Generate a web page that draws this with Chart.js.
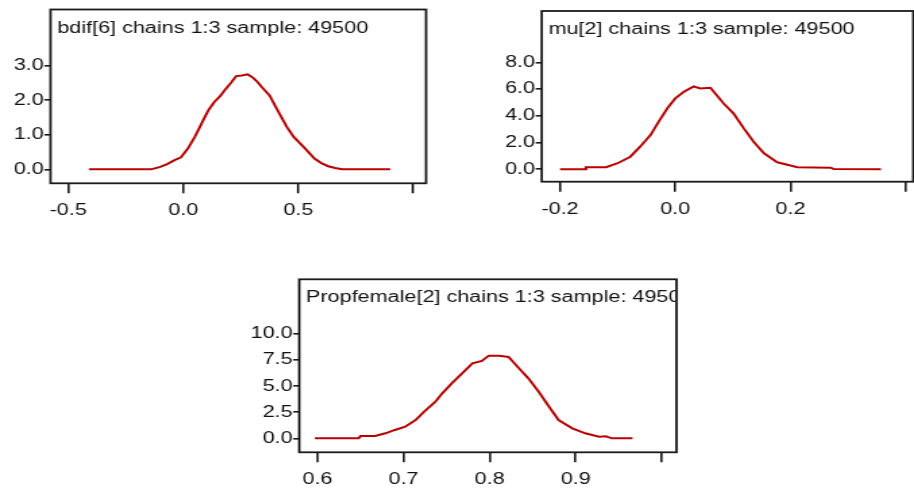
<!DOCTYPE html>
<html>
<head>
<meta charset="utf-8">
<script src="https://cdn.jsdelivr.net/npm/chart.js@4.4.1/dist/chart.umd.min.js"></script>
<style>
  html, body { margin: 0; padding: 0; background: #fff; }
  body { width: 914px; height: 491px; position: relative; overflow: hidden; }
  canvas { position: absolute; }
</style>
</head>
<body>
<script>
// the screenshot is stretched sideways, so each canvas is drawn narrow and widened by css
const S = 1.35;
const FONT = "'Liberation Sans', Arial, sans-serif";

// bdif[6] density
const bdifX = [-0.41, -0.14, -0.10, -0.07, -0.04, -0.01, 0.02, 0.05, 0.07, 0.09, 0.11, 0.135, 0.16, 0.18, 0.21, 0.23, 0.255, 0.28, 0.30, 0.32, 0.34, 0.375, 0.41, 0.45, 0.48, 0.53, 0.57, 0.60, 0.63, 0.66, 0.69, 0.90];
const bdifY = [0, 0, 0.07, 0.15, 0.26, 0.35, 0.60, 0.94, 1.20, 1.47, 1.72, 1.95, 2.12, 2.29, 2.53, 2.70, 2.72, 2.75, 2.67, 2.55, 2.39, 2.14, 1.71, 1.23, 0.94, 0.60, 0.31, 0.18, 0.09, 0.04, 0, 0];
const bdifXTicks = [-0.5, 0, 0.5, 1.0];
const bdifXLabels = ['-0.5', '0.0', '0.5', ''];
const bdifYTicks = [0, 1, 2, 3];
const bdifYLabels = ['0.0', '1.0', '2.0', '3.0'];

// mu[2] density
const muX = [-0.20, -0.157, -0.155, -0.12, -0.10, -0.078, -0.061, -0.043, -0.029, -0.014, 0.0, 0.015, 0.032, 0.043, 0.061, 0.072, 0.084, 0.101, 0.119, 0.136, 0.154, 0.177, 0.212, 0.27, 0.275, 0.357];
const muY = [0, 0, 0.15, 0.15, 0.45, 0.94, 1.69, 2.56, 3.55, 4.55, 5.3, 5.8, 6.2, 6.04, 6.1, 5.54, 4.92, 4.18, 3.06, 2.06, 1.19, 0.52, 0.15, 0.12, 0.02, 0];
const muXTicks = [-0.2, 0, 0.2, 0.4];
const muXLabels = ['-0.2', '0.0', '0.2', ''];
const muYTicks = [0, 2, 4, 6, 8];
const muYLabels = ['0.0', '2.0', '4.0', '6.0', '8.0'];

// Propfemale[2] density
const pfX = [0.597, 0.648, 0.65, 0.667, 0.679, 0.690, 0.702, 0.714, 0.724, 0.737, 0.745, 0.756, 0.768, 0.780, 0.791, 0.799, 0.811, 0.822, 0.834, 0.845, 0.857, 0.869, 0.880, 0.896, 0.911, 0.927, 0.935, 0.942, 0.966];
const pfY = [0, 0, 0.22, 0.22, 0.48, 0.80, 1.11, 1.75, 2.55, 3.51, 4.31, 5.27, 6.23, 7.19, 7.41, 7.92, 7.92, 7.80, 6.71, 5.75, 4.47, 3.03, 1.75, 0.96, 0.48, 0.16, 0.2, 0, 0];
const pfXTicks = [0.6, 0.7, 0.8, 0.9, 1.0];
const pfXLabels = ['0.6', '0.7', '0.8', '0.9', ''];
const pfYTicks = [0, 2.5, 5, 7.5, 10];
const pfYLabels = ['0.0', '2.5', '5.0', '7.5', '10.0'];

// frame and in-box title
const boxPlugin = {
  id: 'box',
  afterDraw(chart, args, opts) {
    const { ctx, chartArea: a } = chart;
    ctx.save();
    ctx.strokeStyle = '#1a1a1a';
    ctx.lineWidth = 1.8;
    ctx.strokeRect(a.left, a.top, a.right - a.left, a.bottom - a.top);
    ctx.beginPath();
    ctx.rect(a.left, a.top, a.right - a.left - 1, a.bottom - a.top);
    ctx.clip();
    ctx.fillStyle = '#111';
    ctx.font = '16px ' + FONT;
    ctx.fillText(opts.text, a.left + 5, a.top + 23);
    ctx.restore();
  }
};

function panel(p) {
  const c = document.createElement('canvas');
  const w = Math.round(p.w / S);
  const k = p.w / w;
  c.width = w;
  c.height = p.h;
  c.style.left = p.x + 'px';
  c.style.top = p.y + 'px';
  c.style.width = p.w + 'px';
  c.style.height = p.h + 'px';
  document.body.appendChild(c);

  const yW = (p.box[0] - p.x) / k;
  const xH = p.y + p.h - p.box[3];

  new Chart(c, {
    type: 'line',
    data: {
      datasets: [{
        data: p.xs.map((x, i) => ({ x: x, y: p.ys[i] })),
        borderColor: '#b80000',
        borderWidth: 2,
        pointRadius: 0,
        tension: 0,
        fill: false
      }]
    },
    options: {
      responsive: false,
      animation: false,
      devicePixelRatio: 1,
      layout: { padding: { left: 0, top: p.box[1] - p.y, right: (p.x + p.w - p.box[2]) / k, bottom: 0 } },
      plugins: {
        legend: { display: false },
        tooltip: { enabled: false },
        box: { text: p.title }
      },
      scales: {
        x: {
          type: 'linear',
          min: p.xr[0],
          max: p.xr[1],
          afterBuildTicks: s => { s.ticks = p.xt.map(v => ({ value: v })); },
          afterFit: s => { s.height = xH; s.paddingLeft = 0; s.paddingRight = 0; },
          ticks: {
            callback: (v, i) => p.xl[i],
            autoSkip: false,
            maxRotation: 0,
            padding: 8,
            color: '#111',
            font: { family: FONT, size: 16 }
          },
          grid: { drawOnChartArea: false, drawTicks: true, tickLength: 10, color: '#1a1a1a', lineWidth: 1.6 },
          border: { display: false }
        },
        y: {
          min: p.yr[0],
          max: p.yr[1],
          afterBuildTicks: s => { s.ticks = p.yt.map(v => ({ value: v })); },
          afterFit: s => { s.width = yW; s.paddingTop = 0; s.paddingBottom = 0; },
          ticks: {
            callback: (v, i) => p.yl[i],
            autoSkip: false,
            padding: 0.5,
            color: '#111',
            font: { family: FONT, size: 16 }
          },
          grid: { drawOnChartArea: false, drawTicks: true, tickLength: 4.5, color: '#1a1a1a', lineWidth: 1.6 },
          border: { display: false }
        }
      }
    },
    plugins: [boxPlugin]
  });
}

panel({
  title: 'bdif[6] chains 1:3 sample: 49500',
  xs: bdifX, ys: bdifY, xt: bdifXTicks, xl: bdifXLabels, yt: bdifYTicks, yl: bdifYLabels,
  xr: [-0.577, 1.055], yr: [-0.405, 4.63],
  x: 0, y: 0, w: 440, h: 235, box: [50.5, 9.5, 426, 183.3]
});

panel({
  title: 'mu[2] chains 1:3 sample: 49500',
  xs: muX, ys: muY, xt: muXTicks, xl: muXLabels, yt: muYTicks, yl: muYLabels,
  xr: [-0.2318, 0.4132], yr: [-0.93, 11.84],
  x: 470, y: 0, w: 444, h: 235, box: [541.7, 11, 913.3, 181.7]
});

panel({
  title: 'Propfemale[2] chains 1:3 sample: 49500',
  xs: pfX, ys: pfY, xt: pfXTicks, xl: pfXLabels, yt: pfYTicks, yl: pfYLabels,
  xr: [0.579, 1.017], yr: [-1.34, 15.24],
  x: 230, y: 255, w: 460, h: 236, box: [299.3, 279.3, 676.5, 452.3]
});
</script>
</body>
</html>
